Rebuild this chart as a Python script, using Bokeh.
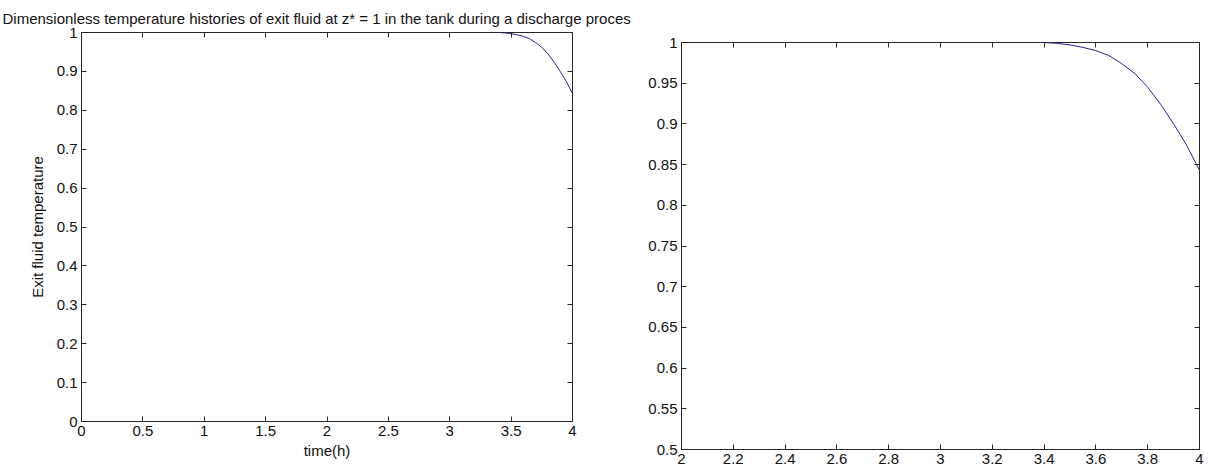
from bokeh.plotting import figure
from bokeh.layouts import row, column
from bokeh.models import LinearAxis, FixedTicker, Range1d, Title
from bokeh.embed import file_html
from bokeh.resources import INLINE

# ---- data ----
time_h = [3.40, 3.45, 3.50, 3.55, 3.60, 3.65, 3.70, 3.75, 3.80, 3.85, 3.90, 3.95, 4.00]
exit_temp = [1.000, 0.999, 0.997, 0.994, 0.990, 0.984, 0.974, 0.962, 0.945, 0.924, 0.900, 0.874, 0.843]

left_xticks = [0, 0.5, 1, 1.5, 2, 2.5, 3, 3.5, 4]
left_xlabels = ["0", "0.5", "1", "1.5", "2", "2.5", "3", "3.5", "4"]
left_yticks = [0, 0.1, 0.2, 0.3, 0.4, 0.5, 0.6, 0.7, 0.8, 0.9, 1]
left_ylabels = ["0", "0.1", "0.2", "0.3", "0.4", "0.5", "0.6", "0.7", "0.8", "0.9", "1"]
right_xticks = [2, 2.2, 2.4, 2.6, 2.8, 3, 3.2, 3.4, 3.6, 3.8, 4]
right_xlabels = ["2", "2.2", "2.4", "2.6", "2.8", "3", "3.2", "3.4", "3.6", "3.8", "4"]
right_yticks = [0.5, 0.55, 0.6, 0.65, 0.7, 0.75, 0.8, 0.85, 0.9, 0.95, 1]
right_ylabels = ["0.5", "0.55", "0.6", "0.65", "0.7", "0.75", "0.8", "0.85", "0.9", "0.95", "1"]

title_text = "Dimensionless temperature histories of exit fluid at z* = 1 in the tank during a discharge proces"

FONT = "Liberation Sans"
LINE_COLOR = "#25258f"
AX_COLOR = "#262626"


def style(p, xt, xl, yt, yl):
    p.grid.visible = False
    p.outline_line_color = AX_COLOR
    p.outline_line_alpha = 1.0
    p.background_fill_color = "white"
    p.border_fill_color = "white"
    main = []
    for ax, t, l in ((p.xaxis[0], xt, xl), (p.yaxis[0], yt, yl)):
        ax.ticker = FixedTicker(ticks=t)
        ax.major_label_overrides = {float(a): b for a, b in zip(t, l)}
        ax.major_tick_in = 5
        ax.major_tick_out = 0
        ax.minor_tick_line_color = None
        ax.axis_line_color = AX_COLOR
        ax.major_tick_line_color = AX_COLOR
        ax.major_label_text_font = FONT
        ax.major_label_text_font_size = "15px"
        ax.major_label_text_color = "#111111"
        ax.major_label_standoff = 4
        main.append(ax)
    for side, t in (("above", xt), ("right", yt)):
        extra = LinearAxis(ticker=FixedTicker(ticks=t), major_tick_in=5, major_tick_out=0,
                           minor_tick_line_color=None, axis_line_color=None,
                           major_tick_line_color=AX_COLOR,
                           major_label_text_color=None, major_label_text_font_size="1px",
                           major_label_standoff=0)
        p.add_layout(extra, side)
    return main


p1 = figure(width=640, height=472, x_range=Range1d(0, 4), y_range=Range1d(0, 1),
            output_backend="svg", toolbar_location=None,
            min_border_left=81, min_border_right=68, min_border_top=32, min_border_bottom=51)
xa1, ya1 = style(p1, left_xticks, left_xlabels, left_yticks, left_ylabels)
xa1.axis_label = "time(h)"
ya1.axis_label = "Exit fluid temperature"
for ax in (xa1, ya1):
    ax.axis_label_text_font = FONT
    ax.axis_label_text_font_size = "15px"
    ax.axis_label_text_font_style = "normal"
    ax.axis_label_text_color = "#111111"
xa1.axis_label_standoff = 3
ya1.axis_label_standoff = 8
p1.line(time_h, exit_temp, line_color=LINE_COLOR, line_width=1)
p1.add_layout(Title(text=title_text, text_font=FONT, text_font_size="15px",
                    text_font_style="normal", text_color="#111111",
                    text_line_height=0.6,
                    align="left", offset=-79, standoff=12), "above")

p2 = figure(width=569, height=472, x_range=Range1d(2, 4), y_range=Range1d(0.5, 1),
            output_backend="svg", toolbar_location=None,
            min_border_left=41, min_border_right=10, min_border_top=42, min_border_bottom=23)
style(p2, right_xticks, right_xlabels, right_yticks, right_ylabels)
p2.line(time_h, exit_temp, line_color=LINE_COLOR, line_width=1)

layout = row(column(p1), column(p2))
open("out.html", "w").write(file_html(layout, INLINE))
